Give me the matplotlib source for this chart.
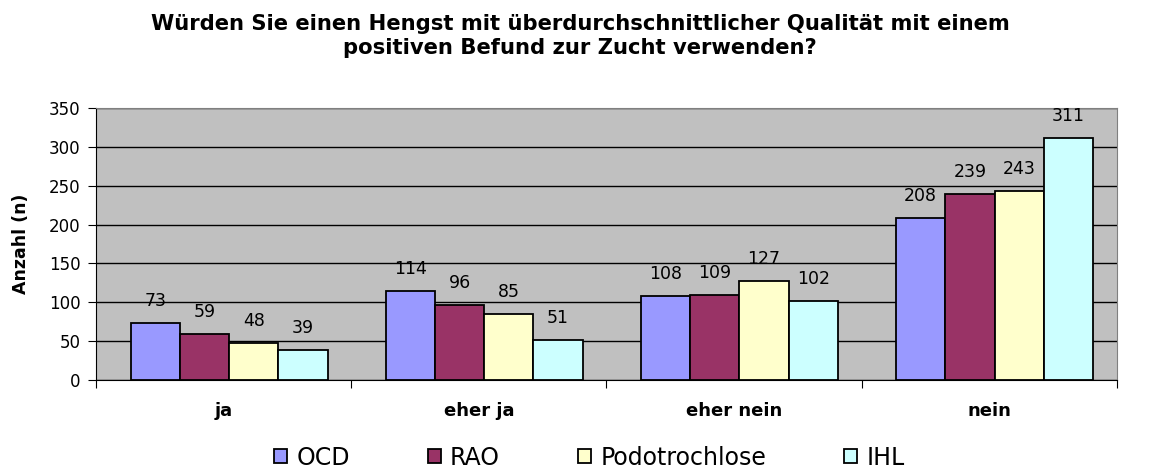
import matplotlib
matplotlib.use("Agg")
import matplotlib.pyplot as plt
import numpy as np

plt.rcParams["font.family"] = ["DejaVu Sans"]

categories = ["ja", "eher ja", "eher nein", "nein"]
series_names = ["OCD", "RAO", "Podotrochlose", "IHL"]
ocd = [73, 114, 108, 208]
rao = [59, 96, 109, 239]
podo = [48, 85, 127, 243]
ihl = [39, 51, 102, 311]
series_colors = ["#9999FF", "#993366", "#FFFFCC", "#CCFFFF"]

title = ("Würden Sie einen Hengst mit überdurchschnittlicher Qualität mit einem\n"
         "positiven Befund zur Zucht verwenden?")

fig = plt.figure(figsize=(11.6, 4.68), dpi=100)
ax = fig.add_axes([0.0828, 0.188, 0.880, 0.581])
ax.set_facecolor("#C0C0C0")

x = np.arange(len(categories))
width = 0.193
for i, (vals, name, col) in enumerate(zip([ocd, rao, podo, ihl], series_names, series_colors)):
    pos = x + (i - 1.5) * width + 0.021
    bars = ax.bar(pos, vals, width, color=col, edgecolor="black", linewidth=1.3,
                  label=name, zorder=3)
    for b, v in zip(bars, vals):
        ax.annotate(str(v), (b.get_x() + b.get_width() / 2, v), xytext=(0, 22),
                    textcoords="offset pixels", ha="center", va="center",
                    fontsize=12.5, zorder=4)

ax.set_xlim(-0.5, len(categories) - 0.5)
ax.set_ylim(0, 350)
ax.set_yticks(range(0, 351, 50))
ax.tick_params(axis="y", labelsize=12, direction="out", length=6, pad=5)
ax.yaxis.grid(True, color="black", linewidth=1, zorder=1)
ax.set_axisbelow(True)

ax.set_xticks(np.arange(-0.5, len(categories), 1.0))
ax.set_xticklabels([])
ax.set_xticks(x, minor=True)
ax.set_xticklabels(categories, minor=True, fontweight="bold", fontsize=13)
ax.tick_params(axis="x", which="minor", length=0, pad=16)
ax.tick_params(axis="x", which="major", length=6, direction="out")

for s in ["top", "right"]:
    ax.spines[s].set_color("#808080")
for s in ["left", "bottom"]:
    ax.spines[s].set_color("black")

ax.set_ylabel("Anzahl (n)", fontweight="bold", fontsize=12.5, labelpad=14)

fig.text(0.5, 0.923, title, ha="center", va="center", fontweight="bold",
         fontsize=15.2, linespacing=1.3)

handles = [plt.Rectangle((0, 0), 1, 1, facecolor=c, edgecolor="black", linewidth=1.3)
           for c in series_colors]
fig.legend(handles, series_names, loc="center", bbox_to_anchor=(0.508, 0.022),
           ncol=4, frameon=False, fontsize=17, handlelength=0.55, handleheight=0.55,
           handletextpad=0.4, columnspacing=3.3, borderpad=0)

fig.savefig("out.png", dpi=100)
